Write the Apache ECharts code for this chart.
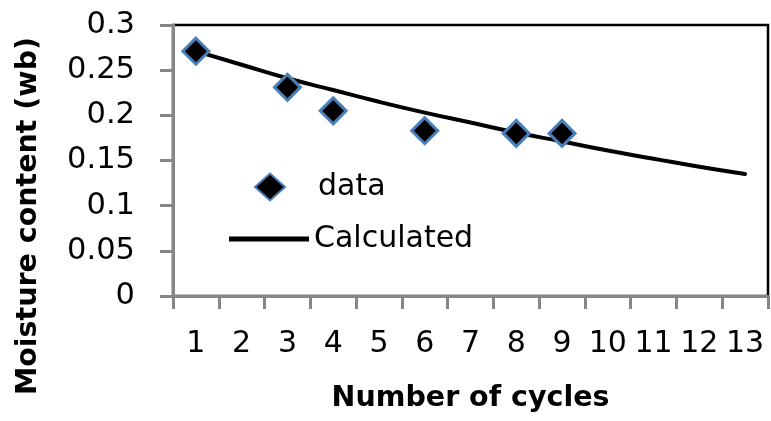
<!DOCTYPE html>
<html>
<head>
<meta charset="utf-8">
<script src="https://cdn.jsdelivr.net/npm/echarts@6/dist/echarts.min.js"></script>
<style>
  html, body { margin: 0; padding: 0; background: #ffffff; }
  #chart { width: 771px; height: 421px; }
</style>
</head>
<body>
<div id="chart"></div>
<script>
// Cycle numbers shown on the horizontal axis
const cycles = ['1', '2', '3', '4', '5', '6', '7', '8', '9', '10', '11', '12', '13'];

// Measured moisture content (wet basis); '-' where no measurement was taken
const measured = [0.271, '-', 0.231, 0.205, '-', 0.183, '-', 0.180, 0.180, '-', '-', '-', '-'];

// Model prediction for every cycle
const calculated = [0.271, 0.256, 0.241, 0.228, 0.215, 0.203, 0.192, 0.181, 0.171, 0.161, 0.152, 0.143, 0.135];

// Vertical axis tick values
const yTicks = [0, 0.05, 0.1, 0.15, 0.2, 0.25, 0.3];

const FONT = 'DejaVu Sans';
const AXIS_GREY = '#868686';

const chart = echarts.init(document.getElementById('chart'), null, { renderer: 'canvas' });

chart.setOption({
  animation: false,
  backgroundColor: '#ffffff',
  grid: {
    left: 173, right: 3, top: 25, bottom: 125,
    show: true,
    borderColor: '#000000',
    borderWidth: 2.5,
    backgroundColor: 'transparent'
  },
  legend: [
    {
      data: [{ name: 'data', icon: 'diamond' }],
      left: 249, top: 167,
      itemWidth: 30, itemHeight: 27,
      textStyle: { fontFamily: FONT, fontSize: 30, color: '#000000', padding: [0, 0, 0, 28] }
    },
    {
      data: [{ name: 'Calculated', icon: 'rect' }],
      left: 224, top: 219,
      itemWidth: 80, itemHeight: 5,
      itemStyle: { color: '#000000', borderWidth: 0 },
      textStyle: { fontFamily: FONT, fontSize: 30, color: '#000000' }
    }
  ],
  xAxis: {
    type: 'category',
    data: cycles,
    boundaryGap: true,
    name: 'Number of cycles',
    nameLocation: 'middle',
    nameGap: 88,
    nameMoveOverlap: false,
    nameTextStyle: { fontFamily: FONT, fontSize: 28.5, fontWeight: 'bold', color: '#000000' },
    axisLine: { lineStyle: { color: AXIS_GREY, width: 3 } },
    axisTick: { show: true, length: 13, lineStyle: { color: AXIS_GREY, width: 3 } },
    axisLabel: { interval: 0, margin: 33, fontFamily: FONT, fontSize: 30, color: '#000000', hideOverlap: false },
    splitLine: { show: false }
  },
  yAxis: {
    type: 'value',
    min: yTicks[0],
    max: yTicks[yTicks.length - 1],
    interval: 0.05,
    name: 'Moisture content (wb)',
    nameLocation: 'middle',
    nameRotate: 90,
    nameGap: 130,
    nameMoveOverlap: false,
    nameTextStyle: {
      fontFamily: FONT, fontSize: 28.5, fontWeight: 'bold', color: '#000000',
      padding: [0, 111, 0, 0]
    },
    axisLine: { show: true, lineStyle: { color: AXIS_GREY, width: 3 } },
    axisTick: { show: true, length: 13, lineStyle: { color: AXIS_GREY, width: 3 } },
    axisLabel: {
      margin: 38, fontFamily: FONT, fontSize: 30.5, color: '#000000',
      formatter: v => String(+v.toFixed(2))
    },
    splitLine: { show: false }
  },
  series: [
    {
      name: 'Calculated',
      type: 'line',
      data: calculated,
      smooth: true,
      showSymbol: false,
      symbol: 'none',
      lineStyle: { color: '#000000', width: 4, cap: 'round' },
      itemStyle: { color: '#000000' },
      z: 2
    },
    {
      name: 'data',
      type: 'scatter',
      data: measured,
      symbol: 'diamond',
      symbolSize: 26,
      itemStyle: { color: '#000000', borderColor: '#4a7ebb', borderWidth: 3, opacity: 1 },
      z: 3
    }
  ]
});
</script>
</body>
</html>
